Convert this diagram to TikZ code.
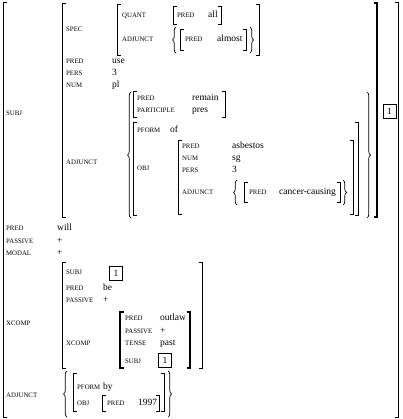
\documentclass[tikz,border=0pt]{standalone}
\usepackage{fontspec}
\setmainfont{Liberation Serif}
\usetikzlibrary{decorations.pathreplacing}
\newcommand{\lsq}[4][]{\draw[brak,#1] (#2+3.5,#3) -- (#2,#3) -- (#2,#4) -- (#2+3.5,#4);}
\newcommand{\rsq}[4][]{\draw[brak,#1] (#2-3.5,#3) -- (#2,#3) -- (#2,#4) -- (#2-3.5,#4);}
\newcommand{\lcurl}[3]{\draw[brak,decorate,decoration={brace,amplitude=3.5pt}] (#1,#3) -- (#1,#2);}
\newcommand{\rcurl}[3]{\draw[brak,decorate,decoration={brace,amplitude=3.5pt}] (#1,#2) -- (#1,#3);}
\begin{document}
\begin{tikzpicture}[x=1pt, y=-1pt,
    attr/.style={anchor=west, inner sep=0pt, font=\fontsize{6.8}{7}\selectfont, text height=4.5pt, text depth=0pt},
    val/.style={anchor=west, inner sep=0pt, font=\fontsize{9.5}{10}\selectfont, text height=6.2pt, text depth=2pt},
    tag/.style={draw, line width=.6pt, minimum width=13pt, minimum height=14pt, inner sep=0pt, font=\fontsize{9.5}{10}\selectfont},
    brak/.style={line width=.7pt},
    heavy/.style={line width=2pt}]
    \useasboundingbox (0,0) rectangle (402,419);
    \lsq{3}{2}{417}
    \rsq{398}{2}{417}
    \node[attr] (subj) at (6,113) {SUBJ};
    \node[attr] (pred) at (6,228) {PRED};
    \node[val] (will) at (57,228) {will};
    \node[attr] (passive) at (6,241) {PASSIVE};
    \node[val] (passiveval) at (57,241) {+};
    \node[attr] (modal) at (6,253) {MODAL};
    \node[val] (modalval) at (57,253) {+};
    \node[attr] (xcomp) at (6,323) {XCOMP};
    \node[attr] (adjunct) at (6,395) {ADJUNCT};
    \lsq{62}{3}{217}
    \rsq[heavy]{377}{3}{217}
    \node[tag] (subjtag) at (389.5,111) {1};
    \node[attr] (spec) at (66,29) {SPEC};
    \node[attr] (subjpred) at (66,61) {PRED};
    \node[val] (use) at (112,61) {use};
    \node[attr] (subjpers) at (66,73) {PERS};
    \node[val] (subjpersval) at (112,73) {3};
    \node[attr] (subjnum) at (66,85) {NUM};
    \node[val] (pl) at (112,85) {pl};
    \node[attr] (subjadj) at (66,162) {ADJUNCT};
    \lsq{117}{4}{55}
    \rsq{259}{4}{55}
    \node[attr] (quant) at (122,15) {QUANT};
    \lsq{173}{6}{24}
    \node[attr] (quantpred) at (177,15) {PRED};
    \node[val] (all) at (208,15) {all};
    \rsq{221}{6}{24}
    \node[attr] (specadj) at (122,39) {ADJUNCT};
    \lcurl{176}{27}{53}
    \lsq{180}{29}{50}
    \node[attr] (specadjpred) at (185,39) {PRED};
    \node[val] (almost) at (217,39) {almost};
    \rsq{246}{29}{50}
    \rcurl{250}{27}{53}
    \lcurl{131}{92}{218}
    \rcurl{367}{92}{218}
    \lsq{133}{91}{117}
    \node[attr] (remainpred) at (137,98) {PRED};
    \node[val] (remain) at (192,98) {remain};
    \node[attr] (participle) at (137,110) {PARTICIPLE};
    \node[val] (pres) at (192,110) {pres};
    \rsq{225}{91}{117}
    \lsq{133}{122}{215}
    \rsq{358}{122}{215}
    \node[attr] (pform) at (137,130) {PFORM};
    \node[val] (of) at (170,130) {of};
    \node[attr] (obj) at (137,168) {OBJ};
    \lsq{178}{140}{214}
    \rsq{353}{140}{214}
    \node[attr] (objpred) at (182,146) {PRED};
    \node[val] (asbestos) at (232,146) {asbestos};
    \node[attr] (objnum) at (182,158) {NUM};
    \node[val] (sg) at (232,158) {sg};
    \node[attr] (objpers) at (182,170) {PERS};
    \node[val] (objpersval) at (232,170) {3};
    \node[attr] (objadj) at (182,192) {ADJUNCT};
    \lcurl{237}{180}{205}
    \lsq{244}{182}{202}
    \node[attr] (objadjpred) at (249,192) {PRED};
    \node[val] (cancer) at (279,192) {cancer-causing};
    \rsq{340}{182}{202}
    \rcurl{343}{180}{205}
    \lsq{62}{262}{368}
    \rsq{202}{262}{368}
    \node[attr] (xsubj) at (66,272) {SUBJ};
    \node[tag] (xsubjtag) at (116,273) {1};
    \node[attr] (xpred) at (66,288) {PRED};
    \node[val] (be) at (103,288) {be};
    \node[attr] (xpassive) at (66,300) {PASSIVE};
    \node[val] (xpassiveval) at (103,300) {+};
    \node[attr] (xxcomp) at (66,343) {XCOMP};
    \lsq[heavy]{120}{312}{368}
    \rsq[heavy]{190}{312}{368}
    \node[attr] (xxpred) at (125,318) {PRED};
    \node[val] (outlaw) at (160,318) {outlaw};
    \node[attr] (xxpassive) at (125,331) {PASSIVE};
    \node[val] (xxpassiveval) at (160,331) {+};
    \node[attr] (tense) at (125,343) {TENSE};
    \node[val] (past) at (160,343) {past};
    \node[attr] (xxsubj) at (125,361) {SUBJ};
    \node[tag] (xxsubjtag) at (165,360) {1};
    \lcurl{67}{371}{417}
    \lsq{73}{373}{411}
    \node[attr] (bypform) at (77,387) {PFORM};
    \node[val] (by) at (103,387) {by};
    \node[attr] (byobj) at (77,403) {OBJ};
    \lsq{102}{395}{411}
    \node[attr] (bypred) at (107,403) {PRED};
    \node[val] (year) at (138,403) {1997};
    \rsq{159}{395}{411}
    \rsq{164}{373}{411}
    \rcurl{168}{371}{417}
\end{tikzpicture}
\end{document}
